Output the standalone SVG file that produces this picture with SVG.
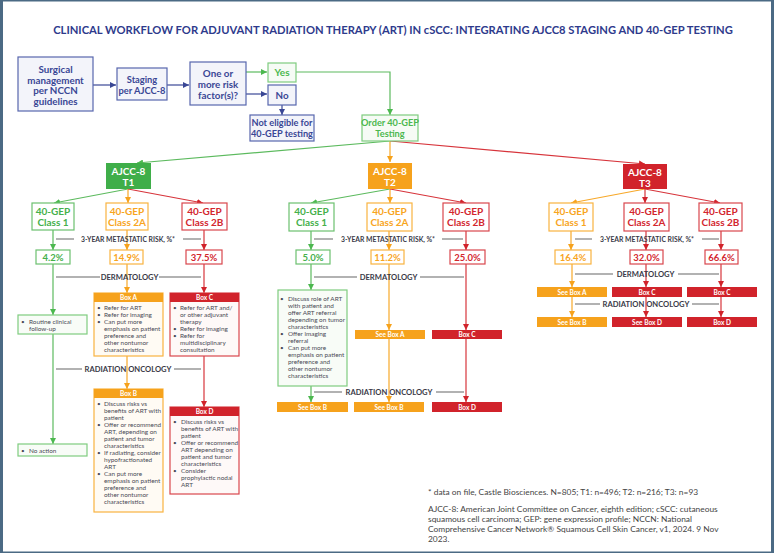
<svg xmlns="http://www.w3.org/2000/svg" width="774" height="553" viewBox="0 0 774 553">
<defs>
<style>
.t{font-family:Lato,"Open Sans","Liberation Sans",sans-serif}
.title{font-size:11.2px;font-weight:bold;fill:#2e3a8c}
.nv{font-size:9.8px;font-weight:bold;fill:#3a4795;text-anchor:middle}
.gn{font-size:10px;font-weight:bold;fill:#4cb84f;text-anchor:middle}
.wh{font-size:10px;font-weight:bold;fill:#fff;text-anchor:middle}
.cls{font-size:10px;font-weight:bold;text-anchor:middle}
.pc{font-size:9.5px;font-weight:bold;text-anchor:middle}
.sec{font-size:6.8px;font-weight:bold;fill:#3a3a48;text-anchor:middle}
.sec2{font-size:7.6px;fill:#3a3a48;text-anchor:middle;font-weight:bold}
.hd{font-size:6.5px;font-weight:bold;fill:#fff;text-anchor:middle}
.bl{font-size:6.4px;fill:#4a4a55}
.fn{font-size:8.4px;fill:#444}
.cG{fill:#3fae49}.cO{fill:#f6a21c}.cR{fill:#d1232b}
.bxN{fill:#f3f4fa;stroke:#5866ad;stroke-width:1.2}
.bxG{fill:#f6fbf5;stroke:#7fcc7f;stroke-width:1.2}
.wG{fill:#fff;stroke:#6cc06f;stroke-width:1.2}
.wO{fill:#fff;stroke:#f9b340;stroke-width:1.2}
.wR{fill:#fff;stroke:#d9464d;stroke-width:1.2}
.pG{fill:#f8fcf7;stroke:#7fcc7f;stroke-width:1.2}
.pO{fill:#fffbf4;stroke:#f9b340;stroke-width:1.2}
.pR{fill:#fef9f8;stroke:#d9464d;stroke-width:1.2}
.lG{stroke:#5cba5e;stroke-width:1.2;fill:none}
.lO{stroke:#f7a829;stroke-width:1.2;fill:none}
.lR{stroke:#d7343b;stroke-width:1.2;fill:none}
.lN{stroke:#3a4795;stroke-width:1.2;fill:none}
.lK{stroke:#666;stroke-width:1.1;fill:none}
</style>
<marker id="aG" viewBox="0 0 6 6" refX="6" refY="3" markerWidth="6" markerHeight="6" markerUnits="userSpaceOnUse" orient="auto"><path d="M0,0L6,3L0,6z" fill="#4cb84f"/></marker>
<marker id="aO" viewBox="0 0 6 6" refX="6" refY="3" markerWidth="6" markerHeight="6" markerUnits="userSpaceOnUse" orient="auto"><path d="M0,0L6,3L0,6z" fill="#f6a21c"/></marker>
<marker id="aR" viewBox="0 0 6 6" refX="6" refY="3" markerWidth="6" markerHeight="6" markerUnits="userSpaceOnUse" orient="auto"><path d="M0,0L6,3L0,6z" fill="#d1232b"/></marker>
<marker id="aN" viewBox="0 0 6 6" refX="6" refY="3" markerWidth="6" markerHeight="6" markerUnits="userSpaceOnUse" orient="auto"><path d="M0,0L6,3L0,6z" fill="#3a4795"/></marker>
</defs>
<rect x="0" y="0" width="774" height="553" fill="#fff"/>
<path d="M0,0H774V553H0Z M3,1.5V551.5H771V1.5Z" fill="#4b6a84" fill-rule="evenodd"/>

<text class="t title" x="393" y="34" text-anchor="middle">CLINICAL WORKFLOW FOR ADJUVANT RADIATION THERAPY (ART) IN cSCC: INTEGRATING AJCC8 STAGING AND 40-GEP TESTING</text>

<!-- connectors -->
<g id="connectors">
<path class="lN" d="M93,85H116" marker-end="url(#aN)"/>
<path class="lN" d="M167,85H189" marker-end="url(#aN)"/>
<path class="lG" d="M246,72H267" marker-end="url(#aG)"/>
<path class="lN" d="M246,94H267" marker-end="url(#aN)"/>
<path class="lN" d="M282,105V115" marker-end="url(#aN)"/>
<path class="lG" d="M296,72H390V115" marker-end="url(#aG)"/>
<path class="lG" d="M390,141L137,163" marker-end="url(#aG)"/>
<path class="lO" d="M390,141V162" marker-end="url(#aO)"/>
<path class="lR" d="M390,141L645,164" marker-end="url(#aR)"/>
<!-- T1 -->
<path class="lG" d="M128,189L54,203" marker-end="url(#aG)"/>
<path class="lO" d="M128,189V203" marker-end="url(#aO)"/>
<path class="lR" d="M128,189L203,203" marker-end="url(#aR)"/>
<path class="lG" d="M53,230V250" marker-end="url(#aG)"/>
<path class="lO" d="M127,230V250" marker-end="url(#aO)"/>
<path class="lR" d="M204,230V250" marker-end="url(#aR)"/>
<path class="lG" d="M53,264V315" marker-end="url(#aG)"/>
<path class="lO" d="M127,264V293" marker-end="url(#aO)"/>
<path class="lR" d="M204,264V293" marker-end="url(#aR)"/>
<path class="lG" d="M53,334V444" marker-end="url(#aG)"/>
<path class="lO" d="M127,356V389" marker-end="url(#aO)"/>
<path class="lR" d="M204,356V407" marker-end="url(#aR)"/>
<!-- T2 -->
<path class="lG" d="M390,189L311,203" marker-end="url(#aG)"/>
<path class="lO" d="M390,189V203" marker-end="url(#aO)"/>
<path class="lR" d="M390,189L466,203" marker-end="url(#aR)"/>
<path class="lG" d="M311,231V250" marker-end="url(#aG)"/>
<path class="lO" d="M389,231V250" marker-end="url(#aO)"/>
<path class="lR" d="M466,231V250" marker-end="url(#aR)"/>
<path class="lG" d="M311,264V290" marker-end="url(#aG)"/>
<path class="lO" d="M389,264V330" marker-end="url(#aO)" stroke="#fcc777"/>
<path class="lR" d="M466,264V330" marker-end="url(#aR)"/>
<path class="lG" d="M311,386V402" marker-end="url(#aG)"/>
<path class="lO" d="M389,339V402" marker-end="url(#aO)" stroke="#fcc777"/>
<path class="lR" d="M466,339V402" marker-end="url(#aR)"/>
<!-- T3 -->
<path class="lO" d="M645,189L571,203" marker-end="url(#aO)"/>
<path class="lR" d="M645,189V203" marker-end="url(#aR)"/>
<path class="lR" d="M645,189L720,203" marker-end="url(#aR)"/>
<path class="lO" d="M571,231V250" marker-end="url(#aO)"/>
<path class="lR" d="M646,231V250" marker-end="url(#aR)"/>
<path class="lR" d="M721,231V250" marker-end="url(#aR)"/>
<path class="lO" d="M572,264V287" marker-end="url(#aO)"/>
<path class="lR" d="M646,264V287" marker-end="url(#aR)"/>
<path class="lR" d="M721,264V287" marker-end="url(#aR)"/>
<path class="lO" d="M572,297V317" marker-end="url(#aO)"/>
<path class="lR" d="M646,297V317" marker-end="url(#aR)"/>
<path class="lR" d="M721,297V317" marker-end="url(#aR)"/>
</g>

<!-- section labels -->
<g id="labels" class="t">
<path class="lK" d="M56,239H74M183,239H201"/>
<text class="sec" x="128" y="241.5">3-YEAR METASTATIC RISK, %*</text>
<path class="lK" d="M56,277H100M159,277H201"/>
<text class="sec2" x="129.5" y="280">DERMATOLOGY</text>
<path class="lK" d="M56,369H82M174,369H201"/>
<text class="sec2" x="128" y="372">RADIATION ONCOLOGY</text>

<path class="lK" d="M314,239H333M442,239H463"/>
<text class="sec" x="388" y="241.5">3-YEAR METASTATIC RISK, %*</text>
<path class="lK" d="M314,277H357M420,277H464"/>
<text class="sec2" x="388.5" y="280">DERMATOLOGY</text>
<path class="lK" d="M314,392H342M436,392H464"/>
<text class="sec2" x="389" y="395">RADIATION ONCOLOGY</text>

<path class="lK" d="M575,239H592M702,239H719"/>
<text class="sec" x="647" y="241.5">3-YEAR METASTATIC RISK, %*</text>
<path class="lK" d="M575,274H613M678,274H719"/>
<text class="sec2" x="645.5" y="277">DERMATOLOGY</text>
<path class="lK" d="M575,304H600M692,304H719"/>
<text class="sec2" x="646" y="307">RADIATION ONCOLOGY</text>
</g>

<!-- top flow -->
<g id="surgical" class="t"><rect class="bxN" x="18" y="57" width="75" height="54"/>
<text class="nv" x="55.5" y="72.5">Surgical</text><text class="nv" x="55.5" y="83.5">management</text><text class="nv" x="55.5" y="94">per NCCN</text><text class="nv" x="55.5" y="104.5">guidelines</text></g>
<g id="staging" class="t"><rect class="bxN" x="117" y="68" width="50" height="32"/>
<text class="nv" x="142" y="82.5" style="font-size:9.3px">Staging</text><text class="nv" x="142" y="93.5" style="font-size:9.3px">per AJCC-8</text></g>
<g id="risk" class="t"><rect class="bxN" x="190" y="62" width="56" height="43"/>
<text class="nv" x="218" y="76.5">One or</text><text class="nv" x="218" y="87.5">more risk</text><text class="nv" x="218" y="98.5">factor(s)?</text></g>
<g id="yes" class="t"><rect class="bxG" x="268" y="63" width="28" height="19"/><text class="gn" x="282" y="76">Yes</text></g>
<g id="no" class="t"><rect class="bxN" x="268" y="85" width="28" height="20"/><text class="nv" x="282" y="98.5">No</text></g>
<g id="noteligible" class="t"><rect class="bxN" x="250" y="115" width="64" height="26"/>
<text class="nv" x="282" y="126" style="font-size:9.2px">Not eligible for</text><text class="nv" x="282" y="137" style="font-size:9.2px">40-GEP testing</text></g>
<g id="order" class="t"><rect class="bxG" x="362" y="115" width="56" height="26"/>
<text class="gn" x="390" y="126" style="font-size:9.2px">Order 40-GEP</text><text class="gn" x="390" y="137" style="font-size:9.2px">Testing</text></g>

<!-- stage boxes -->
<g id="t1" class="t"><rect class="cG" x="106" y="163" width="45" height="26"/><text class="wh" x="128.5" y="175">AJCC-8</text><text class="wh" x="128.5" y="186">T1</text></g>
<g id="t2" class="t"><rect class="cO" x="368" y="163" width="44" height="26"/><text class="wh" x="390" y="175">AJCC-8</text><text class="wh" x="390" y="186">T2</text></g>
<g id="t3" class="t"><rect class="cR" x="623" y="164" width="44" height="25"/><text class="wh" x="645" y="175.5">AJCC-8</text><text class="wh" x="645" y="186.5">T3</text></g>

<!-- class boxes -->
<g id="t1c1" class="t"><rect class="wG" x="32" y="203" width="42" height="27"/><text class="cls" fill="#45b04b" x="53" y="215">40-GEP</text><text class="cls" fill="#45b04b" x="53" y="226">Class 1</text></g>
<g id="t1c2a" class="t"><rect class="wO" x="106" y="203" width="42" height="27"/><text class="cls" fill="#f8a51e" x="127" y="215">40-GEP</text><text class="cls" fill="#f8a51e" x="127" y="226">Class 2A</text></g>
<g id="t1c2b" class="t"><rect class="wR" x="182" y="203" width="45" height="27"/><text class="cls" fill="#d3262e" x="204.5" y="215">40-GEP</text><text class="cls" fill="#d3262e" x="204.5" y="226">Class 2B</text></g>
<g id="t2c1" class="t"><rect class="wG" x="289" y="203" width="45" height="28"/><text class="cls" fill="#45b04b" x="311.5" y="215">40-GEP</text><text class="cls" fill="#45b04b" x="311.5" y="226">Class 1</text></g>
<g id="t2c2a" class="t"><rect class="wO" x="367" y="203" width="45" height="28"/><text class="cls" fill="#f8a51e" x="389.5" y="215">40-GEP</text><text class="cls" fill="#f8a51e" x="389.5" y="226">Class 2A</text></g>
<g id="t2c2b" class="t"><rect class="wR" x="443" y="203" width="46" height="28"/><text class="cls" fill="#d3262e" x="466" y="215">40-GEP</text><text class="cls" fill="#d3262e" x="466" y="226">Class 2B</text></g>
<g id="t3c1" class="t"><rect class="wO" x="549" y="203" width="44" height="28"/><text class="cls" fill="#f8a51e" x="571" y="215">40-GEP</text><text class="cls" fill="#f8a51e" x="571" y="226">Class 1</text></g>
<g id="t3c2a" class="t"><rect class="wR" x="624" y="203" width="45" height="28"/><text class="cls" fill="#d3262e" x="646.5" y="215">40-GEP</text><text class="cls" fill="#d3262e" x="646.5" y="226">Class 2A</text></g>
<g id="t3c2b" class="t"><rect class="wR" x="699" y="203" width="43" height="28"/><text class="cls" fill="#d3262e" x="720.5" y="215">40-GEP</text><text class="cls" fill="#d3262e" x="720.5" y="226">Class 2B</text></g>

<!-- percent boxes -->
<g id="p1" class="t"><rect class="wG" x="36" y="250" width="34" height="14"/><text class="pc" fill="#45b04b" x="53" y="260.5">4.2%</text></g>
<g id="p2" class="t"><rect class="wO" x="110" y="250" width="33" height="14"/><text class="pc" fill="#f8a51e" x="126.5" y="260.5">14.9%</text></g>
<g id="p3" class="t"><rect class="wR" x="186" y="250" width="36" height="14"/><text class="pc" fill="#d3262e" x="204" y="260.5">37.5%</text></g>
<g id="p4" class="t"><rect class="wG" x="296" y="250" width="34" height="14"/><text class="pc" fill="#45b04b" x="313" y="260.5">5.0%</text></g>
<g id="p5" class="t"><rect class="wO" x="371" y="250" width="33" height="14"/><text class="pc" fill="#f8a51e" x="387.5" y="260.5">11.2%</text></g>
<g id="p6" class="t"><rect class="wR" x="450" y="250" width="35" height="14"/><text class="pc" fill="#d3262e" x="467.5" y="260.5">25.0%</text></g>
<g id="p7" class="t"><rect class="wO" x="555" y="250" width="36" height="14"/><text class="pc" fill="#f8a51e" x="573" y="260.5">16.4%</text></g>
<g id="p8" class="t"><rect class="wR" x="630" y="250" width="33" height="14"/><text class="pc" fill="#d3262e" x="646.5" y="260.5">32.0%</text></g>
<g id="p9" class="t"><rect class="wR" x="705" y="250" width="33" height="14"/><text class="pc" fill="#d3262e" x="721.5" y="260.5">66.6%</text></g>

<!-- T1 action boxes -->
<g id="routine" class="t bl"><rect class="pG" x="18" y="315" width="69" height="19"/>
<text x="21" y="324">•</text><text x="29" y="324">Routine clinical</text><text x="29" y="331">follow-up</text></g>
<g id="noaction" class="t bl"><rect class="pG" x="18" y="444" width="69" height="12"/>
<text x="21" y="452.5">•</text><text x="29" y="452.5">No action</text></g>

<g id="boxA" class="t"><rect class="pO" x="94" y="293" width="69" height="63"/><rect class="cO" x="94" y="293" width="69" height="9"/>
<text class="hd" x="128.5" y="300">Box A</text>
<g class="bl"><text x="97" y="310">•</text><text x="104" y="310">Refer for ART</text>
<text x="97" y="317">•</text><text x="104" y="317">Refer for imaging</text>
<text x="97" y="324">•</text><text x="104" y="324">Can put more</text><text x="104" y="331">emphasis on patient</text><text x="104" y="338">preference and</text><text x="104" y="345">other nontumor</text><text x="104" y="352">characteristics</text></g></g>

<g id="boxC" class="t"><rect class="pR" x="170" y="293" width="69" height="63"/><rect class="cR" x="170" y="293" width="69" height="9"/>
<text class="hd" x="204.5" y="300">Box C</text>
<g class="bl"><text x="173" y="310">•</text><text x="180" y="310">Refer for ART and/</text><text x="180" y="317">or other adjuvant</text><text x="180" y="324">therapy</text>
<text x="173" y="331">•</text><text x="180" y="331">Refer for imaging</text>
<text x="173" y="338">•</text><text x="180" y="338">Refer for</text><text x="180" y="345">multidisciplinary</text><text x="180" y="352">consultation</text></g></g>

<g id="boxB" class="t"><rect class="pO" x="94" y="389" width="69" height="123"/><rect class="cO" x="94" y="389" width="69" height="9"/>
<text class="hd" x="128.5" y="396">Box B</text>
<g class="bl"><text x="97" y="406">•</text><text x="104" y="406">Discuss risks vs</text><text x="104" y="413">benefits of ART with</text><text x="104" y="420">patient</text>
<text x="97" y="427">•</text><text x="104" y="427">Offer or recommend</text><text x="104" y="434">ART, depending on</text><text x="104" y="441">patient and tumor</text><text x="104" y="448">characteristics</text>
<text x="97" y="455">•</text><text x="104" y="455">If radiating, consider</text><text x="104" y="462">hypofractionated</text><text x="104" y="469">ART</text>
<text x="97" y="476">•</text><text x="104" y="476">Can put more</text><text x="104" y="483">emphasis on patient</text><text x="104" y="490">preference and</text><text x="104" y="497">other nontumor</text><text x="104" y="504">characteristics</text></g></g>

<g id="boxD" class="t"><rect class="pR" x="170" y="407" width="69" height="87"/><rect class="cR" x="170" y="407" width="69" height="9"/>
<text class="hd" x="204.5" y="414">Box D</text>
<g class="bl"><text x="173" y="424">•</text><text x="181" y="424">Discuss risks vs</text><text x="181" y="431">benefits of ART with</text><text x="181" y="438">patient</text>
<text x="173" y="445">•</text><text x="181" y="445">Offer or recommend</text><text x="181" y="452">ART depending on</text><text x="181" y="459">patient and tumor</text><text x="181" y="466">characteristics</text>
<text x="173" y="473">•</text><text x="181" y="473">Consider</text><text x="181" y="480">prophylactic nodal</text><text x="181" y="487">ART</text></g></g>

<!-- T2 action boxes -->
<g id="t2green" class="t"><rect class="pG" x="278" y="290" width="69" height="96"/>
<g class="bl"><text x="280" y="301">•</text><text x="288" y="301">Discuss role of ART</text><text x="288" y="308">with patient and</text><text x="288" y="315">offer ART referral</text><text x="288" y="322">depending on tumor</text><text x="288" y="329">characteristics</text>
<text x="280" y="336">•</text><text x="288" y="336">Offer imaging</text><text x="288" y="343">referral</text>
<text x="280" y="350">•</text><text x="288" y="350">Can put more</text><text x="288" y="357">emphasis on patient</text><text x="288" y="364">preference and</text><text x="288" y="371">other nontumor</text><text x="288" y="378">characteristics</text></g></g>
<g id="t2seeA" class="t"><rect class="cO" x="355" y="330" width="70" height="9"/><text class="hd" x="390" y="337">See Box A</text></g>
<g id="t2C" class="t"><rect class="cR" x="432" y="330" width="70" height="9"/><text class="hd" x="467" y="337">Box C</text></g>
<g id="t2seeB1" class="t"><rect class="cO" x="277" y="402" width="71" height="10"/><text class="hd" x="312.5" y="409.5">See Box B</text></g>
<g id="t2seeB2" class="t"><rect class="cO" x="354" y="402" width="70" height="10"/><text class="hd" x="389" y="409.5">See Box B</text></g>
<g id="t2D" class="t"><rect class="cR" x="432" y="402" width="70" height="10"/><text class="hd" x="467" y="409.5">Box D</text></g>

<!-- T3 action boxes -->
<g id="t3seeA" class="t"><rect class="cO" x="537" y="287" width="70" height="10"/><text class="hd" x="572" y="294.5">See Box A</text></g>
<g id="t3C1" class="t"><rect class="cR" x="612" y="287" width="70" height="10"/><text class="hd" x="647" y="294.5">Box C</text></g>
<g id="t3C2" class="t"><rect class="cR" x="687" y="287" width="70" height="10"/><text class="hd" x="722" y="294.5">Box C</text></g>
<g id="t3seeB" class="t"><rect class="cO" x="537" y="317" width="70" height="10"/><text class="hd" x="572" y="324.5">See Box B</text></g>
<g id="t3seeD" class="t"><rect class="cR" x="612" y="317" width="70" height="10"/><text class="hd" x="647" y="324.5">See Box D</text></g>
<g id="t3D" class="t"><rect class="cR" x="687" y="317" width="70" height="10"/><text class="hd" x="722" y="324.5">Box D</text></g>

<!-- footnotes -->
<g id="footnote" class="t fn">
<text x="428" y="494.5">* data on file, Castle Biosciences. N=805; T1: n=496; T2: n=216; T3: n=93</text>
<text x="428" y="512">AJCC-8: American Joint Committee on Cancer, eighth edition; cSCC: cutaneous</text>
<text x="428" y="522">squamous cell carcinoma; GEP: gene expression profile; NCCN: National</text>
<text x="428" y="532">Comprehensive Cancer Network® Squamous Cell Skin Cancer, v1, 2024. 9 Nov</text>
<text x="428" y="542">2023.</text>
</g>
</svg>
